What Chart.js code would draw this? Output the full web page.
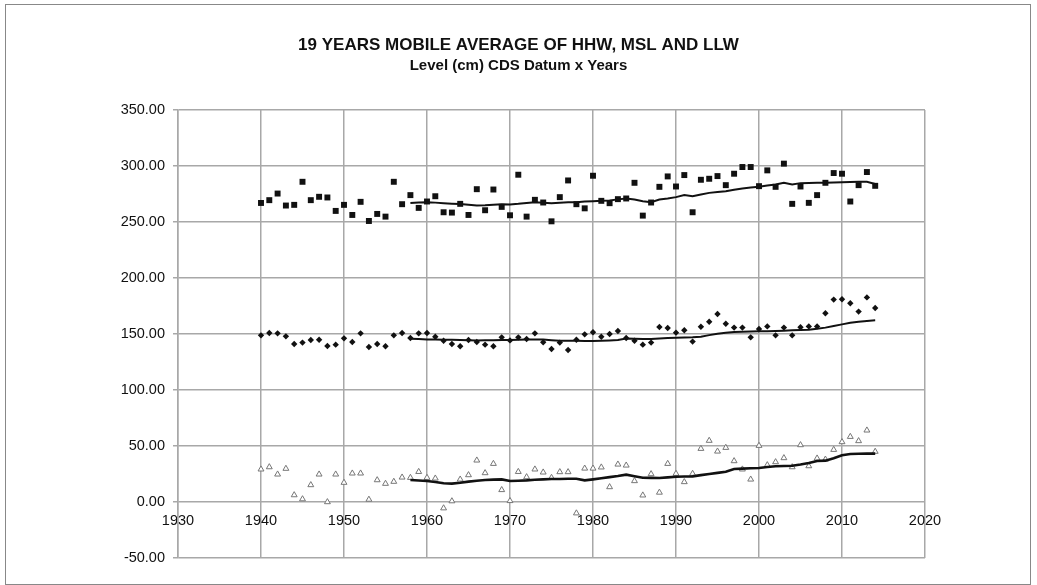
<!DOCTYPE html>
<html>
<head>
<meta charset="UTF-8">
<title>19 Years Mobile Average</title>
<script src="https://cdn.jsdelivr.net/npm/chart.js@4.4.1/dist/chart.umd.min.js"></script>
<style>
  html, body { margin: 0; padding: 0; background: #fff; }
  #wrap { position: relative; width: 1037px; height: 585px; }
</style>
</head>
<body>
<div id="wrap"><canvas id="chart" width="1037" height="585"></canvas></div>
<script>
// yearly observations 1940..2014
var years = [];
for (var y = 1940; y <= 2014; y++) years.push(y);

var hhw = [267, 269.5, 275.4, 264.7, 265.3, 285.9, 269.5, 272.5, 271.9, 259.9,
           265.3, 256.3, 268, 250.9, 257.2, 254.8, 285.9, 265.9, 274, 262.6,
           268.3, 273, 258.7, 258.4, 266.2, 256.3, 279.3, 260.5, 279, 263.5,
           256, 292.2, 254.8, 269.8, 267.4, 250.6, 272.2, 287.1, 265.9, 262.2,
           291.3, 268.9, 266.8, 270.4, 271, 285, 255.7, 267.4, 281.4, 290.7,
           281.7, 291.9, 258.7, 287.7, 288.6, 291, 282.9, 293.1, 299.1, 299.1,
           282, 296.1, 281.4, 302.1, 266.2, 281.7, 267.1, 274, 285, 293.7,
           293.1, 268.3, 282.9, 294.6, 282.3];

var msl = [148.8, 150.9, 150.6, 147.9, 141.1, 142.3, 144.6, 144.9, 139.3, 140.5,
           146.1, 142.9, 150.6, 138.4, 141.1, 139, 148.8, 150.9, 146.4, 150.6,
           150.9, 147.6, 144, 141.1, 139, 144.6, 142.9, 140.5, 139, 147,
           144.3, 147, 145.5, 150.6, 142.6, 136.6, 142.3, 135.7, 144.9, 149.7,
           151.6, 147.6, 150, 152.7, 146.4, 144, 140.5, 142.3, 156.3, 155.4,
           151.2, 153.3, 143.2, 156.5, 161, 167.9, 159.2, 155.7, 155.7, 147,
           154.5, 156.8, 148.8, 155.7, 148.8, 156, 156.8, 156.8, 168.5, 180.7,
           181, 177.4, 170, 182.7, 173.2];

var llw = [29.2, 31.2, 24.7, 29.8, 6.2, 2.6, 15.2, 24.7, 0, 24.7,
           17.3, 25.6, 25.6, 2.2, 19.6, 16.4, 18.2, 22, 21.7, 27,
           21.7, 21.1, -5.5, 0.8, 20.2, 24.1, 37.2, 25.9, 34.2, 10.8,
           1, 27, 22.3, 29.2, 26.5, 21.7, 26.8, 26.8, -10, 30,
           30, 31, 13.4, 33.6, 32.7, 18.8, 6, 25, 8.5, 34.2,
           25.3, 17.9, 25.3, 47.6, 54.8, 45.2, 48.5, 36.6, 29.2, 20.2,
           50.3, 33, 35.7, 39.3, 31.2, 50.9, 32.1, 39, 38, 46.7,
           53.6, 58.3, 54.5, 64, 45];

// 19 year mobile averages 1958..2014
var maYears = [];
for (var m = 1958; m <= 2014; m++) maYears.push(m);

var hhwMA = [267, 267.5, 267.7, 267.3, 266.8, 266.4, 266, 265.3, 264.7, 265,
             265.5, 265.8, 265.6, 266.2, 267, 267.7, 267.2, 266.8, 267.2, 267.6,
             267.7, 268.2, 268.6, 268.9, 269.2, 270.2, 271, 270, 268.6, 267.7,
             270, 271, 272.2, 274, 273, 274.5, 276, 276.8, 277.5, 278.8,
             280, 280.8, 281.4, 282.5, 283.5, 285, 283.5, 284.7, 284.8, 285,
             285, 285.3, 285.6, 285.8, 285.9, 286, 284];

var mslMA = [145.8, 145.5, 145.2, 145, 144.9, 144.9, 144.6, 144.4, 144.3, 144.4,
             144.5, 144.6, 144.6, 144.8, 145, 145, 145, 144.5, 144, 144,
             143.9, 143.8, 143.8, 144, 144.3, 144.6, 146, 145.8, 145.6, 145.5,
             146, 146.4, 146.7, 146.8, 147, 147.6, 149, 150.3, 151.2, 151.8,
             152, 152.2, 152.4, 152.5, 152.7, 153, 153.3, 153.6, 153.9, 154.6,
             155.7, 157.2, 158.6, 160, 161, 161.7, 162.2];

var llwMA = [19.6, 19.2, 18.8, 17.8, 16.7, 16.4, 17.2, 18.2, 19, 19.6,
             20, 20.2, 18.8, 19, 19.3, 19.8, 20.2, 20.5, 20.6, 20.7,
             20.8, 19.3, 20.2, 21.2, 22.2, 23.2, 24.4, 23, 21.7, 21.5,
             21.4, 22, 22.6, 22.8, 22.9, 24, 25, 26, 27, 29.5,
             29.8, 30.1, 30.4, 31.2, 31.9, 32.2, 32.4, 33.5, 34.8, 36.6,
             36.9, 39, 41.7, 42.9, 43.1, 43.2, 43.2];

function pts(xs, ys) {
  return xs.map(function (x, i) { return { x: x, y: ys[i] }; });
}

var frame = {
  id: 'frame',
  beforeDraw: function (chart) {
    var ctx = chart.ctx;
    ctx.save();
    ctx.fillStyle = '#fff';
    ctx.fillRect(0, 0, chart.width, chart.height);
    ctx.strokeStyle = '#888';
    ctx.lineWidth = 1;
    ctx.strokeRect(5.5, 4.5, 1025, 580);
    ctx.restore();
  }
};

var lineStyle = { showLine: true, pointRadius: 0, borderColor: '#111', fill: false, tension: 0 };
var font = '"Liberation Sans", Arial, sans-serif';

new Chart(document.getElementById('chart'), {
  type: 'scatter',
  data: {
    datasets: [
      Object.assign({ label: 'HHW 19y', data: pts(maYears, hhwMA), borderWidth: 2, order: 0 }, lineStyle),
      Object.assign({ label: 'MSL 19y', data: pts(maYears, mslMA), borderWidth: 2, order: 0 }, lineStyle),
      Object.assign({ label: 'LLW 19y', data: pts(maYears, llwMA), borderWidth: 2.6, order: 0 }, lineStyle),
      { label: 'HHW', data: pts(years, hhw), pointStyle: 'rect', pointRadius: 4.2,
        backgroundColor: '#111', borderColor: '#111', borderWidth: 0, order: 1 },
      { label: 'MSL', data: pts(years, msl), pointStyle: 'rectRot', pointRadius: 3.2,
        backgroundColor: '#111', borderColor: '#111', borderWidth: 0, order: 1 },
      { label: 'LLW', data: pts(years, llw), pointStyle: 'triangle', pointRadius: 3.4,
        backgroundColor: '#fff', borderColor: '#777', borderWidth: 1, order: 1 }
    ]
  },
  options: {
    responsive: false,
    animation: false,
    devicePixelRatio: 1,
    layout: { padding: { left: 112, right: 112, top: 0, bottom: 27 } },
    plugins: {
      legend: { display: false },
      tooltip: { enabled: false },
      title: {
        display: true,
        text: '19 YEARS MOBILE AVERAGE OF HHW, MSL AND LLW',
        color: '#111',
        font: { family: font, size: 17, weight: 'bold', lineHeight: 1.2 },
        padding: { top: 35, bottom: 1 }
      },
      subtitle: {
        display: true,
        text: 'Level (cm) CDS Datum x Years',
        color: '#111',
        font: { family: font, size: 15, weight: 'bold', lineHeight: 1.2 },
        padding: { top: 0, bottom: 35.6 }
      }
    },
    scales: {
      x: {
        type: 'linear',
        position: { y: 0 },
        min: 1930, max: 2020,
        ticks: {
          stepSize: 10, color: '#111', padding: 10, maxRotation: 0,
          font: { family: font, size: 14.5 },
          callback: function (v) { return String(v); }
        },
        grid: { color: '#a8a8a8', lineWidth: 1.5, drawTicks: false },
        border: { display: false }
      },
      y: {
        min: -50, max: 350,
        afterFit: function (s) { s.width = 66; },
        ticks: {
          stepSize: 50, color: '#111', padding: 8,
          font: { family: font, size: 14.5 },
          callback: function (v) { return v.toFixed(2); }
        },
        grid: { color: '#a8a8a8', lineWidth: 1.5, tickLength: 5 },
        border: { color: '#a8a8a8', width: 1.5 }
      }
    }
  },
  plugins: [frame]
});
</script>
</body>
</html>
